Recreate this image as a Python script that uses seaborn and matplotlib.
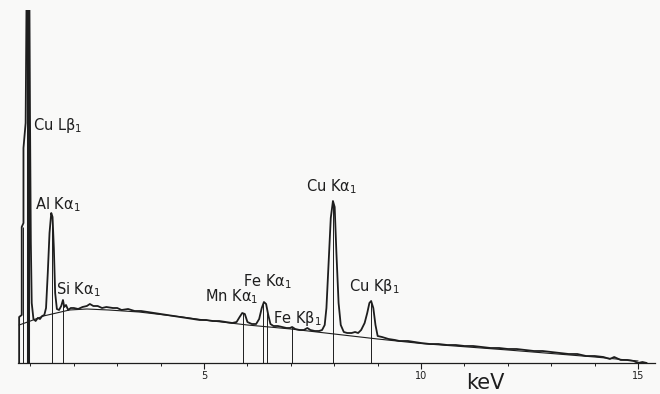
import matplotlib
matplotlib.use("Agg")
import matplotlib.pyplot as plt
import matplotlib.ticker as mticker
import seaborn as sns
import pandas as pd

# spectrum: energy (keV) and counts (arbitrary, baseline = 0)
energy = [
    0.74, 0.74, 0.80, 0.80, 0.84, 0.84, 0.89, 0.92, 0.97, 0.99, 1.01, 1.03, 1.07, 1.12, 1.17,
    1.22, 1.27, 1.32, 1.36, 1.40, 1.44, 1.48, 1.51, 1.54, 1.57, 1.61, 1.66, 1.71, 1.75, 1.78,
    1.82, 1.87, 1.93, 2.00, 2.10, 2.20, 2.30, 2.37, 2.45, 2.55, 2.65, 2.75, 2.90, 3.00, 3.10,
    3.25, 3.40, 3.55, 3.70, 3.85, 4.00, 4.15, 4.30, 4.45, 4.60, 4.75, 4.90, 5.05, 5.20, 5.35,
    5.50, 5.65, 5.75, 5.82, 5.88, 5.94, 6.00, 6.10, 6.20, 6.27, 6.33, 6.38, 6.43, 6.48, 6.53,
    6.60, 6.70, 6.80, 6.90, 6.98, 7.03, 7.10, 7.20, 7.30, 7.38, 7.45, 7.55, 7.65, 7.72, 7.78,
    7.82, 7.87, 7.92, 7.97, 8.01, 8.05, 8.10, 8.15, 8.22, 8.30, 8.40, 8.48, 8.55, 8.62, 8.70,
    8.76, 8.81, 8.85, 8.90, 8.95, 9.00, 9.10, 9.25, 9.40, 9.50, 9.70, 9.85, 10.0, 10.2, 10.4,
    10.6, 10.8, 11.0, 11.2, 11.4, 11.6, 11.8, 12.0, 12.2, 12.4, 12.6, 12.8, 13.0, 13.2, 13.4,
    13.6, 13.8, 14.0, 14.2, 14.35, 14.45, 14.6, 14.75, 14.9, 15.0, 15.1, 15.2,
]
counts = [
    0, 46, 48, 136, 140, 215, 240, 420, 420, 250, 120, 60, 44, 42, 45,
    44, 47, 48, 55, 90, 130, 150, 146, 115, 70, 54, 53, 57, 63, 56,
    58, 53, 55, 55, 54, 56, 57, 59, 57, 57, 55, 56, 55, 55, 53,
    54, 52, 52, 51, 50, 49, 48, 47, 46, 45, 44, 43, 43, 42, 42,
    41, 40, 41, 46, 50, 49, 41, 39, 39, 44, 55, 61, 59, 48, 39,
    37, 37, 36, 35, 35, 36, 34, 33, 33, 35, 33, 32, 32, 33, 38,
    55, 100, 145, 162, 156, 110, 60, 38, 31, 30, 30, 31, 30, 33, 40,
    50, 60, 62, 55, 38, 27, 26, 24, 23, 22, 22, 21, 20, 19, 19,
    18, 18, 17, 17, 16, 15, 15, 14, 14, 13, 12, 12, 11, 10, 9,
    9, 7, 7, 6, 4, 6, 3, 3, 2, 0, 1, 0,
]

# smooth continuum line
bg_energy = [0.74, 1.0, 1.3, 1.6, 1.9, 2.3, 2.8, 3.5, 4.5, 5.0, 6.0, 7.0, 8.0, 9.0, 10.0, 12.0, 14.0, 15.0]
bg_counts = [38, 42, 47, 50, 53, 54, 53, 51, 46, 43, 38, 34, 29, 24, 19.5, 13, 6, 2]

# peak marker lines
marker_energy = [0.82, 0.945, 1.50, 1.75, 5.89, 6.37, 6.45, 7.03, 7.97, 8.85]
marker_top = [136, 420, 148, 63, 50, 61, 50, 36, 162, 62]
marker_width = [0.7, 2.2, 0.7, 0.7, 0.7, 0.7, 0.7, 0.7, 0.7, 0.7]

# peak labels
labels = ["Cu Lβ$_1$", "Al Kα$_1$", "Si Kα$_1$", "Mn Kα$_1$",
          "Fe Kα$_1$", "Fe Kβ$_1$", "Cu Kα$_1$", "Cu Kβ$_1$"]
label_energy = [1.07, 1.11, 1.60, 5.02, 5.90, 6.58, 7.35, 8.33]
label_counts = [238, 158, 73, 66, 81, 45, 176, 76]

sns.set_theme(style="white")
plt.rcParams["font.family"] = ["DejaVu Sans"]
plt.rcParams["mathtext.fontset"] = "dejavusans"

ink = "#1e1e1e"
paper = "#f9f9f8"

fig = plt.figure(figsize=(6.6, 3.94), dpi=100, facecolor=paper)
ax = fig.add_axes([18 / 660, 1 - 363 / 394, 637 / 660, 353 / 394])
ax.set_facecolor(paper)

df = pd.DataFrame({"energy": energy, "counts": counts})
bg = pd.DataFrame({"energy": bg_energy, "counts": bg_counts})

for e, top, lw in zip(marker_energy, marker_top, marker_width):
    ax.vlines(e, 0, top, color=ink, lw=lw, zorder=1)

sns.lineplot(data=bg, x="energy", y="counts", sort=False, estimator=None,
             color=ink, lw=0.8, ax=ax, zorder=2)
sns.lineplot(data=df, x="energy", y="counts", sort=False, estimator=None,
             color=ink, lw=1.3, ax=ax, zorder=3)

for txt, e, c in zip(labels, label_energy, label_counts):
    ax.text(e, c, txt, fontsize=10.5, color=ink, va="center", ha="left")

ax.set_xlim(0.714, 15.39)
ax.set_ylim(0, 353)
ax.set_yticks([])
ax.set_xticks([5, 10, 15])
ax.set_xticklabels(["5", "10", "15"])
ax.xaxis.set_minor_locator(mticker.MultipleLocator(1))
ax.tick_params(axis="x", which="major", direction="out", length=4, width=0.8,
               colors=ink, labelsize=7, pad=2, bottom=True)
ax.tick_params(axis="x", which="minor", direction="out", length=2, width=0.7,
               colors=ink, bottom=True)
ax.set_xlabel("")
ax.set_ylabel("")

for side in ["top", "left", "right"]:
    ax.spines[side].set_visible(False)
ax.spines["bottom"].set_color(ink)
ax.spines["bottom"].set_linewidth(0.9)

fig.text(485 / 660, 1 - 383 / 394, "keV", fontsize=15, color=ink, ha="center", va="center")

fig.savefig("out.png", dpi=100, facecolor=paper)
